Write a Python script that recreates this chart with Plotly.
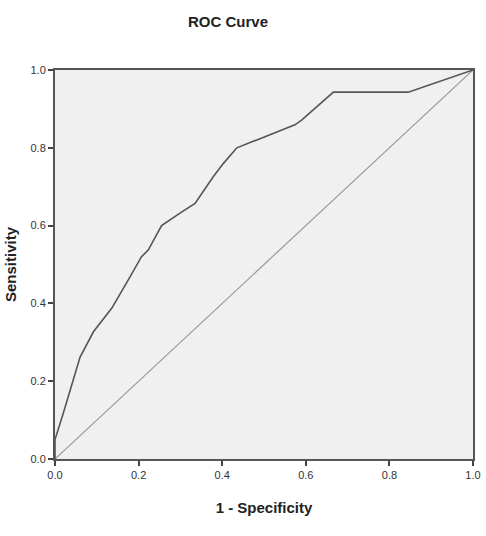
import plotly.graph_objects as go

fpr = [0.0, 0.0, 0.02, 0.06, 0.092, 0.136, 0.175, 0.207, 0.223, 0.255, 0.299, 0.335,
       0.379, 0.403, 0.435, 0.474, 0.514, 0.574, 0.59, 0.666, 0.845, 1.0]
tpr = [0.0, 0.05, 0.118, 0.262, 0.327, 0.388, 0.46, 0.52, 0.537, 0.60, 0.632, 0.657,
       0.726, 0.76, 0.80, 0.816, 0.833, 0.859, 0.871, 0.943, 0.943, 1.0]
ref_x = [0.0, 1.0]
ref_y = [0.0, 1.0]
tick_vals = [0.0, 0.2, 0.4, 0.6, 0.8, 1.0]
tick_text = ["0.0", "0.2", "0.4", "0.6", "0.8", "1.0"]

fig = go.Figure()
fig.add_trace(go.Scatter(x=ref_x, y=ref_y, mode="lines",
                         line=dict(color="#9a9a9a", width=1.2), showlegend=False))
fig.add_trace(go.Scatter(x=fpr, y=tpr, mode="lines",
                         line=dict(color="#555555", width=1.6), showlegend=False))

axis_common = dict(range=[0, 1], tickvals=tick_vals, ticktext=tick_text,
                   showgrid=False, zeroline=False, showline=True, linecolor="#555555",
                   linewidth=2, mirror=True, ticks="outside", ticklen=5, tickwidth=1.5,
                   tickcolor="#444444", automargin=False,
                   tickfont=dict(family="Liberation Sans, Arial, sans-serif", size=11, color="#333333"))

fig.update_layout(
    width=486, height=536,
    margin=dict(l=55, r=13, t=70, b=77),
    paper_bgcolor="white", plot_bgcolor="#f0f0f0",
    xaxis=dict(**axis_common,
               title=dict(text="<b>1 - Specificity</b>", standoff=22,
                          font=dict(family="Liberation Sans, Arial, sans-serif", size=15, color="#222222"))),
    yaxis=dict(**axis_common,
               title=dict(text="<b>Sensitivity</b>", standoff=10,
                          font=dict(family="Liberation Sans, Arial, sans-serif", size=15, color="#222222"))),
    title=dict(text="<b>ROC Curve</b>", x=228/486, xanchor="center", y=1-22/536, yanchor="middle",
               font=dict(family="Liberation Sans, Arial, sans-serif", size=15, color="#222222")),
)

fig.write_html("out.html")
